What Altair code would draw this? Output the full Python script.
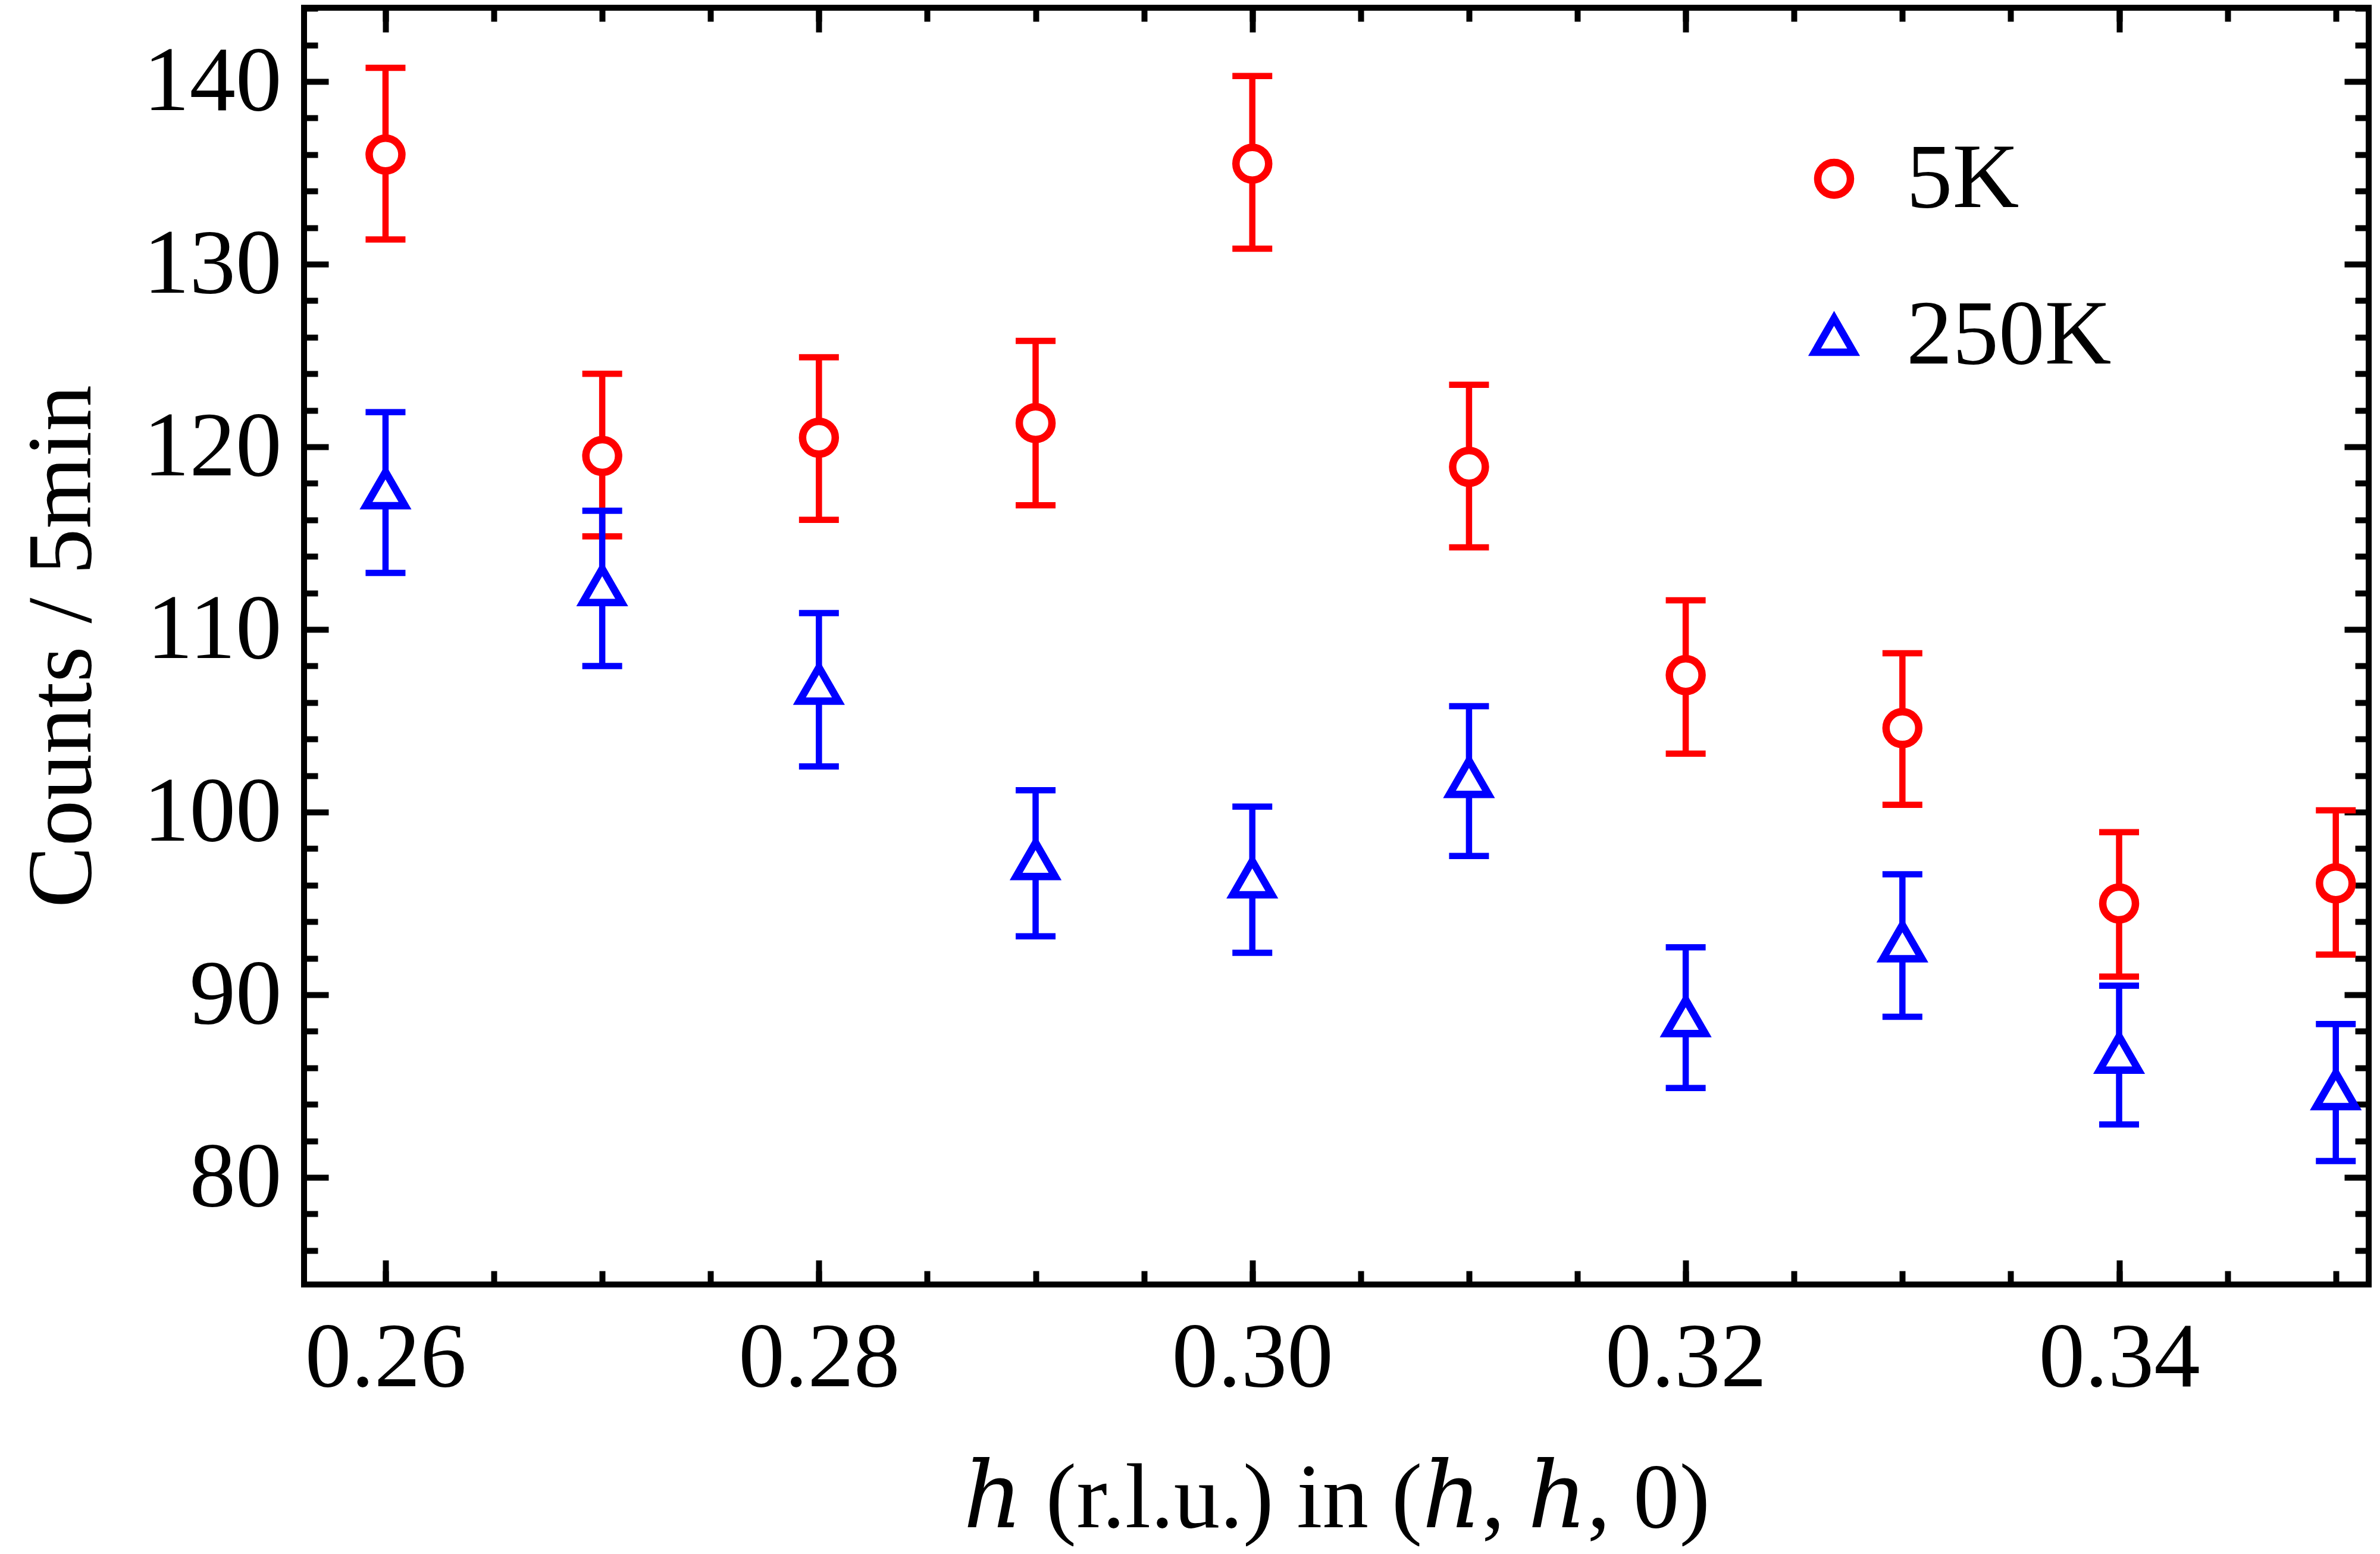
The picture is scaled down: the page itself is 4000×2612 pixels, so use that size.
import altair as alt
import pandas as pd

# ---------------- data ----------------
h_vals = [0.26, 0.27, 0.28, 0.29, 0.30, 0.31, 0.32, 0.33, 0.34, 0.35]

y_5k = [136.0, 119.5, 120.5, 121.3, 135.5, 118.9, 107.5, 104.6, 95.0, 96.1]
hi_5k = [140.75, 124.0, 124.9, 125.8, 140.3, 123.4, 111.6, 108.7, 98.9, 100.1]
lo_5k = [131.35, 115.1, 116.0, 116.8, 130.85, 114.5, 103.2, 100.4, 91.0, 92.2]

y_250k = [117.7, 112.4, 107.0, 97.4, 96.4, 101.9, 88.8, 92.9, 86.8, 84.8]
hi_250k = [121.9, 116.5, 110.9, 101.2, 100.3, 105.8, 92.6, 96.6, 90.5, 88.4]
lo_250k = [113.1, 108.0, 102.5, 93.2, 92.3, 97.6, 84.9, 88.8, 82.9, 80.9]

series_names = ["5K", "250K"]
series_colors = ["#ff0000", "#0000ff"]
series_shapes = ["circle", "triangle-up"]
series_sizes = [3025, 4300]

x_major = [0.26, 0.28, 0.30, 0.32, 0.34]
x_minor = [0.26, 0.265, 0.27, 0.275, 0.28, 0.285, 0.29, 0.295, 0.30, 0.305,
           0.31, 0.315, 0.32, 0.325, 0.33, 0.335, 0.34, 0.345, 0.35]
y_major = [80, 90, 100, 110, 120, 130, 140]
y_minor = [76, 78, 82, 84, 86, 88, 92, 94, 96, 98, 102, 104, 106, 108,
           112, 114, 116, 118, 122, 124, 126, 128, 132, 134, 136, 138, 142, 144]

x_title = "\u210e (r.l.u.) in (\u210e, \u210e, 0)"
y_title = "Counts / 5min"

df = pd.concat([
    pd.DataFrame({"h": h_vals, "y": y_5k, "hi": hi_5k, "lo": lo_5k, "series": series_names[0]}),
    pd.DataFrame({"h": h_vals, "y": y_250k, "hi": hi_250k, "lo": lo_250k, "series": series_names[1]}),
], ignore_index=True)

# ---------------- styling ----------------
FONT = "Liberation Serif"
TITLE_FONT = "Liberation Serif, DejaVu Serif"
FS = 155
T_MAJ = 41
T_MIN = 23
TW = 10
LW = 10.5
CAP = 67

xs = alt.Scale(domain=[0.25624, 0.351518], nice=False, zero=False)
ys = alt.Scale(domain=[74.14, 144.04], nice=False, zero=False)
cs = alt.Scale(domain=series_names, range=series_colors)
ss = alt.Scale(domain=series_names, range=series_shapes)
zs = alt.Scale(domain=series_names, range=series_sizes)


def ax(orient, values, size, **kw):
    return alt.Axis(orient=orient, values=values, tickSize=size, offset=-size,
                    domain=False, grid=False, ticks=True, tickWidth=TW,
                    tickColor="black", labelLimit=0, **kw)


axes_x = [
    ax("bottom", x_major, T_MAJ, labels=True, title=x_title, format=".2f",
       labelPadding=48, titlePadding=126, labelFlush=False),
    ax("bottom", x_minor, T_MIN, labels=False, title=None),
    ax("top", x_major, T_MAJ, labels=False, title=None),
    ax("top", x_minor, T_MIN, labels=False, title=None),
]
axes_y = [
    ax("left", y_major, T_MAJ, labels=True, title=y_title, format="d",
       labelPadding=38, titlePadding=168),
    ax("left", y_minor, T_MIN, labels=False, title=None),
    ax("right", y_major, T_MAJ, labels=False, title=None),
    ax("right", y_minor, T_MIN, labels=False, title=None),
]

leg = alt.Legend(title=None, orient="none", legendX=2494, legendY=210,
                 labelFont=FONT, labelFontSize=FS, labelColor="black",
                 symbolStrokeWidth=12.5, rowPadding=107, labelOffset=44,
                 padding=0, labelLimit=0)

base = alt.Chart(df)
layers = []
k = 0
for name, col in zip(series_names, series_colors):
    sub = base.transform_filter(alt.datum.series == name)
    for kind in ["stem", "cap_hi", "cap_lo"]:
        xa = axes_x[k] if k < 4 else None
        ya = axes_y[k] if k < 4 else None
        if kind == "stem":
            m = sub.mark_rule(strokeWidth=LW, color=col).encode(
                x=alt.X("h:Q", scale=xs, axis=xa),
                y=alt.Y("lo:Q", scale=ys, axis=ya),
                y2="hi:Q",
            )
        else:
            m = sub.mark_tick(orient="horizontal", size=CAP, thickness=LW,
                              color=col, opacity=1).encode(
                x=alt.X("h:Q", scale=xs, axis=xa),
                y=alt.Y("hi:Q" if kind == "cap_hi" else "lo:Q", scale=ys, axis=ya),
            )
        layers.append(m)
        k += 1

points = base.mark_point(filled=False, fill="white", fillOpacity=1, opacity=1,
                         strokeWidth=12.5).encode(
    x=alt.X("h:Q", scale=xs, axis=None),
    y=alt.Y("y:Q", scale=ys, axis=None),
    color=alt.Color("series:N", scale=cs, legend=leg),
    shape=alt.Shape("series:N", scale=ss, legend=leg),
    size=alt.Size("series:N", scale=zs, legend=leg),
)
layers.append(points)

chart = alt.layer(*layers).resolve_axis(
    x="independent", y="independent"
).properties(
    width=3470, height=2146,
    autosize=alt.AutoSizeParams(type="none"),
    padding={"left": 503, "top": 5, "right": 5, "bottom": 440},
    background="white",
).configure_view(
    stroke="black", strokeWidth=10
).configure_axis(
    labelFont=FONT, titleFont=TITLE_FONT, labelFontSize=FS, titleFontSize=FS,
    labelColor="black", titleColor="black", titleFontWeight="normal",
)

chart.save("out.html", embed_options={"renderer": "svg", "actions": False})
